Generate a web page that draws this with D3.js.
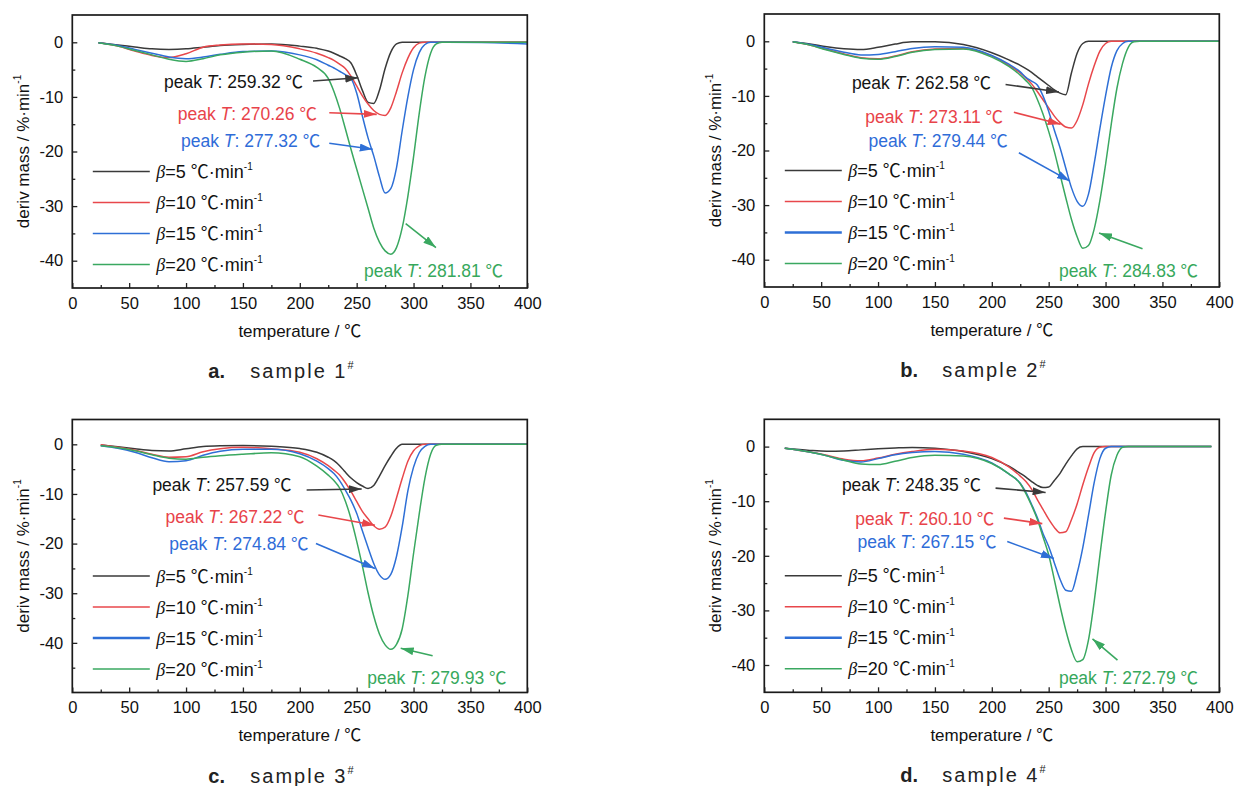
<!DOCTYPE html>
<html>
<head>
<meta charset="utf-8">
<script src="https://cdn.jsdelivr.net/npm/d3@7"></script>
<style>
body { margin: 0; background: #fff; }
svg text { font-family: "Liberation Sans", Arial, "Noto Sans CJK SC", sans-serif; }
.deg { font-family: "Noto Sans CJK SC", "Noto Sans CJK JP", sans-serif; }
</style>
</head>
<body>
<svg id="fig" width="1235" height="786"></svg>
<script>
// heating rates and colours
var rates = ["5", "10", "15", "20"];
var lineColors = ["#3a3a3a", "#e8474b", "#2e6fd6", "#3aa860"];
var textColors = ["#151515", "#e8434a", "#2f6cd8", "#37a85c"];
var xTicks = [0, 50, 100, 150, 200, 250, 300, 350, 400];
var yTicks = [0, -10, -20, -30, -40];

// sample 1#
var tempA = [23, 40, 55, 70, 85, 100, 115, 130, 150, 175, 200, 215, 225, 230, 235, 240, 245, 250, 255, 260, 265, 270, 275, 280, 285, 290, 295, 300, 305, 310, 315, 320, 325, 330, 360, 400];
var a5  = [-0.1, -0.5, -0.85, -1.2, -1.3, -1.2, -0.9, -0.6, -0.4, -0.3, -0.7, -1.1, -1.6, -2.0, -2.5, -3.0, -3.8, -6.0, -8.8, -11.0, -11.2, -8.8, -4.8, -1.8, -0.3, 0, 0, 0, 0, 0, 0, 0, 0, 0, 0, 0];
var a10 = [-0.1, -0.7, -1.6, -2.4, -2.8, -2.1, -0.9, -0.5, -0.3, -0.4, -1.2, -2.0, -2.8, -3.3, -4.0, -4.8, -6.2, -8.0, -9.8, -11.3, -12.5, -13.2, -13.4, -12.0, -9.0, -5.6, -2.9, -1.0, -0.15, 0, 0, 0, 0, 0, 0, 0];
var a15 = [-0.1, -0.6, -1.3, -2.0, -2.7, -3.0, -2.7, -2.2, -1.7, -1.6, -2.3, -3.2, -4.2, -4.7, -5.3, -5.9, -6.6, -9.3, -13.5, -17.5, -20.8, -24.6, -27.6, -26.8, -23.0, -16.2, -10.0, -5.0, -1.9, -0.4, 0, 0, 0, 0, -0.05, -0.3];
var a20 = [-0.1, -0.7, -1.5, -2.3, -3.1, -3.5, -3.0, -2.3, -1.8, -1.6, -3.1, -4.6, -6.6, -9.0, -12.1, -15.8, -19.6, -23.2, -26.8, -30.4, -34.0, -36.6, -38.2, -38.8, -37.6, -34.0, -28.2, -21.0, -13.0, -6.3, -2.0, -0.3, 0, 0, 0, 0];
var peaksA = ["259.32", "270.26", "277.32", "281.81"];

// sample 2#
var tempB = [25, 40, 55, 70, 85, 100, 115, 130, 150, 175, 200, 215, 225, 230, 235, 240, 245, 250, 255, 260, 265, 270, 275, 280, 285, 290, 295, 300, 305, 310, 315, 320, 325, 330, 360, 400];
var b5  = [-0.1, -0.5, -1.0, -1.35, -1.5, -1.1, -0.5, -0.1, -0.1, -0.6, -2.1, -3.4, -4.4, -5.0, -5.7, -6.5, -7.3, -8.1, -8.9, -9.5, -9.8, -5.8, -2.2, -0.4, 0, 0, 0, 0, 0, 0, 0, 0, 0, 0, 0, 0];
var b10 = [-0.1, -0.7, -1.5, -2.3, -3.0, -3.2, -2.7, -1.9, -1.4, -1.3, -2.7, -4.4, -5.8, -6.7, -7.8, -9.2, -10.7, -12.2, -13.7, -14.9, -15.7, -15.9, -14.5, -11.6, -7.8, -4.5, -1.8, -0.4, 0, 0, 0, 0, 0, 0, 0, 0];
var b15 = [-0.1, -0.6, -1.3, -2.0, -2.5, -2.4, -1.9, -1.3, -1.0, -1.1, -2.6, -4.2, -5.6, -6.6, -7.3, -8.0, -10.0, -12.8, -16.3, -19.5, -23.2, -26.8, -29.3, -30.2, -28.0, -22.4, -16.0, -10.0, -4.8, -1.7, -0.4, 0, 0, 0, 0, 0];
var b20 = [-0.1, -0.7, -1.6, -2.4, -3.1, -3.3, -2.8, -2.0, -1.5, -1.4, -2.9, -4.6, -6.2, -7.2, -8.4, -10.6, -13.3, -16.5, -20.2, -24.4, -28.6, -32.6, -35.8, -37.9, -37.4, -34.4, -29.2, -22.6, -15.2, -8.6, -4.0, -1.1, -0.1, 0, 0, 0];
var peaksB = ["262.58", "273.11", "279.44", "284.83"];

// sample 3#
var tempC = [25, 40, 55, 70, 85, 100, 115, 130, 150, 175, 200, 215, 225, 230, 235, 240, 245, 250, 255, 260, 265, 270, 275, 280, 285, 290, 295, 300, 305, 310, 315, 320, 325, 330, 360, 400];
var c5  = [-0.15, -0.5, -0.9, -1.25, -1.35, -0.9, -0.45, -0.3, -0.25, -0.4, -0.85, -1.6, -2.6, -3.3, -4.3, -5.6, -6.8, -7.7, -8.4, -8.9, -8.3, -6.4, -4.3, -2.4, -0.8, 0, 0, 0, 0, 0, 0, 0, 0, 0, 0, 0];
var c10 = [-0.1, -0.6, -1.2, -2.0, -2.6, -2.5, -1.5, -0.9, -0.6, -0.9, -1.6, -2.9, -4.3, -5.2, -6.2, -7.7, -9.5, -11.5, -13.5, -15.0, -16.4, -17.1, -16.7, -14.5, -10.8, -6.9, -3.4, -1.3, -0.3, 0, 0, 0, 0, 0, 0, 0];
var c15 = [-0.3, -0.8, -1.6, -2.7, -3.5, -3.3, -2.2, -1.4, -1.0, -1.0, -1.9, -3.4, -4.9, -5.9, -7.3, -9.2, -11.3, -13.9, -17.4, -20.8, -24.0, -26.3, -27.2, -26.2, -22.6, -16.6, -9.4, -4.6, -1.7, -0.4, 0, 0, 0, 0, 0, 0];
var c20 = [-0.3, -0.7, -1.3, -2.1, -2.8, -3.0, -2.6, -2.3, -2.0, -1.7, -2.5, -4.4, -6.2, -7.3, -8.8, -11.4, -15.0, -19.5, -24.5, -29.9, -34.6, -38.2, -40.4, -41.3, -40.3, -37.2, -30.5, -22.0, -14.0, -6.8, -2.0, -0.2, 0, 0, 0, 0];
var peaksC = ["257.59", "267.22", "274.84", "279.93"];

// sample 4#
var tempD = [18, 40, 55, 70, 85, 100, 115, 130, 150, 175, 200, 215, 225, 230, 235, 240, 245, 250, 255, 260, 265, 270, 275, 280, 285, 290, 295, 300, 305, 310, 315, 320, 325, 330, 360, 393];
var d5  = [-0.3, -0.7, -0.85, -0.8, -0.6, -0.4, -0.25, -0.15, -0.3, -0.9, -2.2, -3.6, -4.9, -5.6, -6.4, -7.1, -7.5, -7.4, -6.2, -4.9, -3.2, -1.7, -0.4, 0, 0, 0, 0, 0, 0, 0, 0, 0, 0, 0, 0, 0];
var d10 = [-0.3, -1.0, -1.6, -2.3, -2.6, -2.1, -1.4, -0.9, -0.5, -0.8, -2.0, -3.7, -5.4, -6.4, -7.8, -9.7, -11.5, -13.3, -14.8, -15.8, -15.6, -13.4, -10.5, -7.0, -3.8, -1.1, -0.1, 0, 0, 0, 0, 0, 0, 0, 0, 0];
var d15 = [-0.3, -1.0, -1.7, -2.5, -2.8, -2.2, -1.5, -1.1, -0.9, -1.4, -3.0, -5.0, -6.7, -8.4, -10.6, -13.0, -15.9, -18.3, -21.3, -24.3, -26.3, -26.5, -23.2, -18.5, -12.6, -6.6, -2.2, -0.3, 0, 0, 0, 0, 0, 0, 0, 0];
var d20 = [-0.3, -1.0, -1.7, -2.5, -3.2, -3.3, -2.7, -2.0, -1.6, -1.7, -3.1, -5.0, -6.8, -8.6, -10.8, -13.3, -16.5, -19.8, -24.4, -29.2, -33.6, -37.2, -39.4, -39.0, -35.4, -28.4, -20.0, -12.0, -5.2, -1.6, -0.1, 0, 0, 0, 0, 0];
var peaksD = ["248.35", "260.10", "267.15", "272.79"];

// annotation placement in data units: label T, label value, arrow from (T, value) to (T, value)
var notesA = [[80.6, -8.3, 211.6, -7.1, 251.4, -6.5], [92.7, -14.3, 225.9, -12.9, 267.6, -13.2], [95.6, -19.2, 225.9, -18.5, 264.1, -19.6], [256.4, -42.9, 293.1, -33.2, 319.7, -37.6]];
var notesB = [[77.0, -8.8, 212.1, -7.9, 259.0, -9.3], [88.7, -14.9, 219.4, -13.0, 260.5, -15.2], [91.6, -19.3, 223.8, -20.4, 268.7, -25.6], [259.0, -43.2, 332.5, -38.0, 294.3, -35.1]];
var notesC = [[70.4, -9.4, 206, -9.2, 254.4, -9.0], [81.9, -15.9, 216.3, -14.25, 266.1, -16.3], [85.3, -21.3, 214.2, -20.0, 266.1, -25.0], [259.4, -48.2, 316.8, -42.6, 288.7, -41.1]];
var notesD = [[68.2, -8.1, 203.3, -7.6, 247.3, -8.4], [79.9, -14.4, 210.6, -13.1, 244.4, -14.1], [81.9, -18.6, 213.6, -17.4, 254.6, -20.5], [259.0, -43.4, 310.5, -39.1, 288.5, -35.2]];

var panels = [
  {left: 72.3, top: 15, yMin: -45, temps: tempA, series: [a5, a10, a15, a20], peaks: peaksA, notes: notesA, tag: "a.", sample: "1", blueW: 1.5},
  {left: 764.3, top: 14, yMin: -45, temps: tempB, series: [b5, b10, b15, b20], peaks: peaksB, notes: notesB, tag: "b.", sample: "2", blueW: 2.6},
  {left: 72.3, top: 419.5, yMin: -50, temps: tempC, series: [c5, c10, c15, c20], peaks: peaksC, notes: notesC, tag: "c.", sample: "3", blueW: 2.6},
  {left: 764.3, top: 419.3, yMin: -45, temps: tempD, series: [d5, d10, d15, d20], peaks: peaksD, notes: notesD, tag: "d.", sample: "4", blueW: 2.6}
];
var plotW = 455, plotH = 273;

var svg = d3.select("#fig");
var defs = svg.append("defs");

lineColors.forEach(function(c, i) {
  defs.append("marker")
    .attr("id", "arrow" + i)
    .attr("viewBox", "0 0 10 10")
    .attr("refX", 10).attr("refY", 5)
    .attr("markerWidth", 13).attr("markerHeight", 8)
    .attr("markerUnits", "userSpaceOnUse")
    .attr("preserveAspectRatio", "none")
    .attr("orient", "auto")
    .append("path")
    .attr("d", "M0,0L10,5L0,10z")
    .attr("fill", c);
});

panels.forEach(function(p, k) { drawPanel(p, k); });

function plain(d) { return String(d); }

function drawPanel(p, k) {
  var x = d3.scaleLinear().domain([0, 400]).range([p.left, p.left + plotW]);
  var y = d3.scaleLinear().domain([p.yMin, 5]).range([p.top + plotH, p.top]);
  var g = svg.append("g");

  defs.append("clipPath").attr("id", "clip" + k)
    .append("rect").attr("x", p.left).attr("y", p.top).attr("width", plotW).attr("height", plotH);

  // minor ticks
  var minorX = [25, 75, 125, 175, 225, 275, 325, 375];
  var minorY = [5, -5, -15, -25, -35, -45].filter(function(v) { return v > p.yMin && v < 5; });

  g.append("g")
    .attr("transform", "translate(0," + (p.top + plotH) + ")")
    .call(d3.axisBottom(x).tickValues(minorX).tickSize(-3).tickFormat(""))
    .call(function(s) { s.select(".domain").remove(); });
  g.append("g")
    .attr("transform", "translate(" + p.left + ",0)")
    .call(d3.axisLeft(y).tickValues(minorY).tickSize(-3).tickFormat(""))
    .call(function(s) { s.select(".domain").remove(); });

  var xAxis = g.append("g")
    .attr("transform", "translate(0," + (p.top + plotH) + ")")
    .call(d3.axisBottom(x).tickValues(xTicks).tickSize(-5).tickPadding(9).tickFormat(plain));
  xAxis.select(".domain").remove();
  xAxis.selectAll("text").attr("font-size", 16.5).attr("fill", "#111").attr("font-family", null);

  var yAxis = g.append("g")
    .attr("transform", "translate(" + p.left + ",0)")
    .call(d3.axisLeft(y).tickValues(yTicks).tickSize(-5).tickPadding(9).tickFormat(plain));
  yAxis.select(".domain").remove();
  yAxis.selectAll("text").attr("font-size", 16.5).attr("fill", "#111").attr("font-family", null);
  g.selectAll(".tick line").attr("stroke", "#222").attr("stroke-width", 1.3);

  // curves
  var line = d3.line()
    .x(function(d) { return x(d[0]); })
    .y(function(d) { return y(d[1]); })
    .curve(d3.curveMonotoneX);

  var curves = g.append("g").attr("clip-path", "url(#clip" + k + ")");
  p.series.forEach(function(vals, i) {
    var pts = p.temps.map(function(t, j) { return [t, vals[j]]; });
    curves.append("path")
      .attr("d", line(pts))
      .attr("fill", "none")
      .attr("stroke", lineColors[i])
      .attr("stroke-width", 1.5)
      .attr("stroke-linejoin", "round");
  });

  // frame
  g.append("rect")
    .attr("x", p.left).attr("y", p.top)
    .attr("width", plotW).attr("height", plotH)
    .attr("fill", "none").attr("stroke", "#1a1a1a").attr("stroke-width", 1.7);

  // peak annotations
  p.notes.forEach(function(n, i) {
    var t = g.append("text")
      .attr("x", x(n[0])).attr("y", y(n[1]))
      .attr("font-size", 17.5)
      .attr("fill", textColors[i]);
    t.append("tspan").text("peak ");
    t.append("tspan").attr("font-style", "italic").text("T");
    t.append("tspan").text(": " + p.peaks[i] + " ");
    t.append("tspan").attr("class", "deg").text("\u2103");

    g.append("line")
      .attr("x1", x(n[2])).attr("y1", y(n[3]))
      .attr("x2", x(n[4])).attr("y2", y(n[5]))
      .attr("stroke", lineColors[i]).attr("stroke-width", 1.6)
      .attr("marker-end", "url(#arrow" + i + ")");
  });

  // legend
  var lg = g.append("g").attr("transform", "translate(" + p.left + "," + (p.top + 156.5) + ")");
  rates.forEach(function(r, i) {
    var row = lg.append("g").attr("transform", "translate(0," + (i * 31) + ")");
    row.append("line")
      .attr("x1", 20.5).attr("x2", 77.5)
      .attr("stroke", lineColors[i])
      .attr("stroke-width", i === 2 ? p.blueW : 1.5);
    var t = row.append("text").attr("x", 84).attr("y", 6.5).attr("font-size", 18).attr("fill", "#111");
    t.append("tspan").attr("font-family", "'Liberation Serif', 'Times New Roman', serif").attr("font-style", "italic").text("\u03b2");
    t.append("tspan").text("=" + r + " ");
    t.append("tspan").attr("class", "deg").text("\u2103");
    t.append("tspan").text("\u00b7min");
    t.append("tspan").attr("font-size", 10).attr("dy", -8).text("-1");
  });

  // axis titles
  var yt = g.append("text")
    .attr("transform", "translate(" + (p.left - 43) + "," + (p.top + plotH / 2) + ") rotate(-90)")
    .attr("text-anchor", "middle")
    .attr("font-size", 17).attr("fill", "#111");
  yt.append("tspan").text("deriv mass / %\u00b7min");
  yt.append("tspan").attr("font-size", 10).attr("dy", -8).text("-1");

  var xt = g.append("text")
    .attr("x", p.left + plotW / 2).attr("y", p.top + plotH + 48.5)
    .attr("text-anchor", "middle")
    .attr("font-size", 17).attr("fill", "#111");
  xt.append("tspan").text("temperature / ");
  xt.append("tspan").attr("class", "deg").text("\u2103");

  // caption
  g.append("text")
    .attr("x", p.left + 136).attr("y", p.top + plotH + 90)
    .attr("font-family", "'Liberation Serif', 'Times New Roman', serif")
    .attr("font-weight", "bold").attr("font-size", 20).attr("fill", "#222")
    .text(p.tag);
  var cap = g.append("text")
    .attr("x", p.left + 178).attr("y", p.top + plotH + 90)
    .attr("font-family", "'Liberation Serif', 'Times New Roman', serif")
    .attr("font-size", 20).attr("letter-spacing", 2).attr("fill", "#222");
  cap.append("tspan").text("sample " + p.sample);
  cap.append("tspan").attr("font-size", 11).attr("dy", -9).text("#");
}
</script>
</body>
</html>
